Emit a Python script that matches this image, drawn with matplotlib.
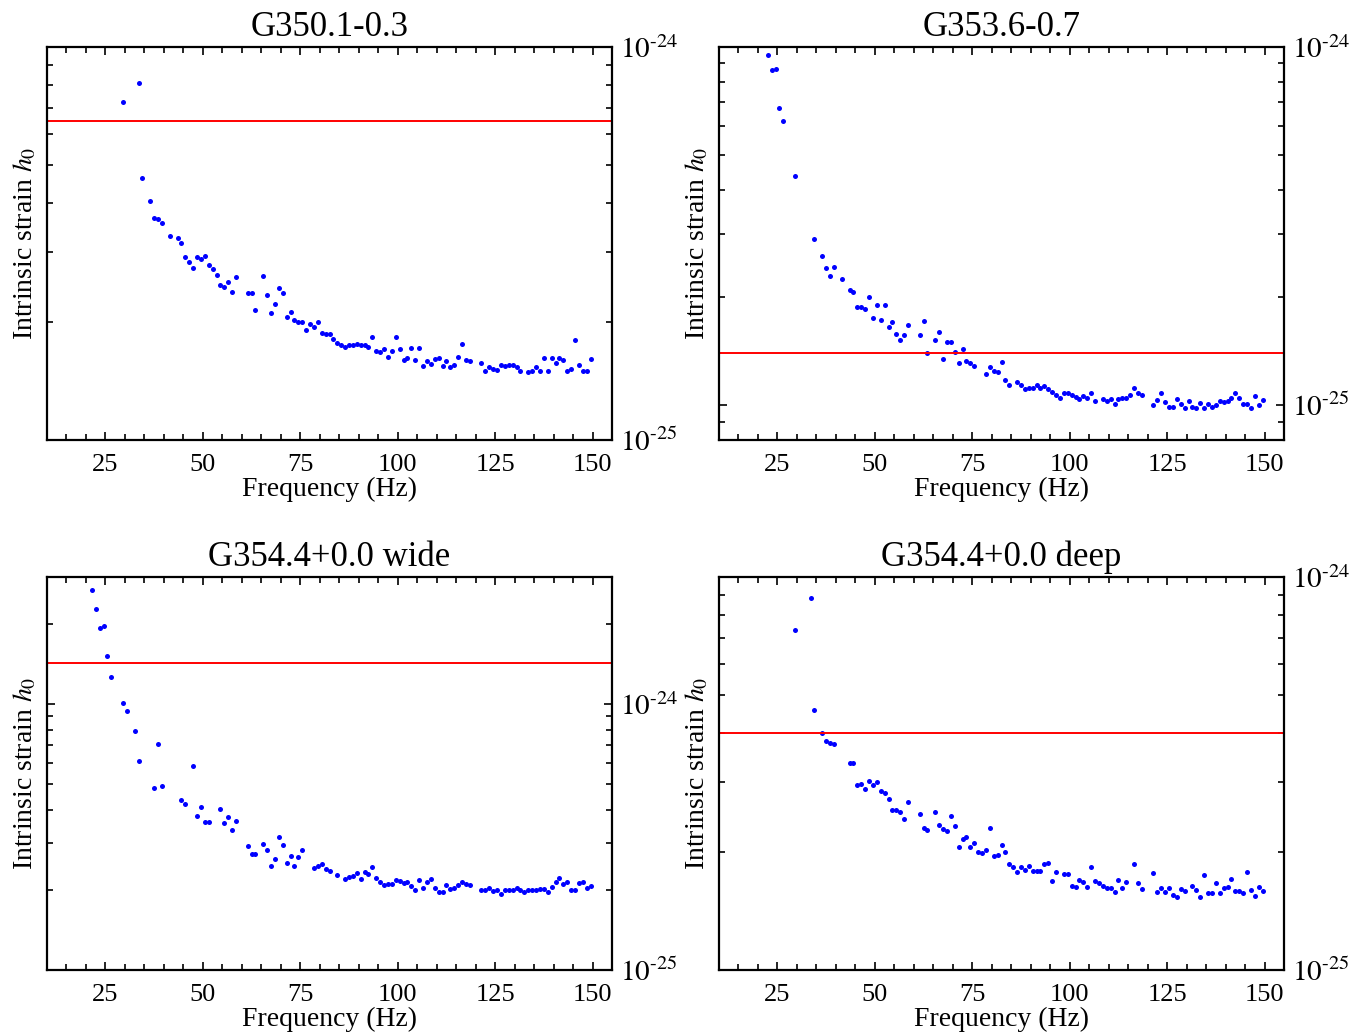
import numpy as np
import matplotlib
matplotlib.use("Agg")
import matplotlib.pyplot as plt
from matplotlib.ticker import FixedLocator, NullFormatter, FuncFormatter

plt.rcParams['font.family'] = 'serif'
plt.rcParams['font.serif'] = ['Liberation Serif', 'DejaVu Serif']
plt.rcParams['mathtext.fontset'] = 'stix'

# strain values read in units of 1e-25
UNIT = 1e-25

#G350.1-0.3
f1 = [29.5, 33.5, 34.5, 36.5, 37.5, 38.5, 39.5, 41.5, 43.5, 44.5, 45.5, 46.5, 47.5, 48.5, 49.5, 50.5,
      51.5, 52.5, 53.5, 54.5, 55.5, 56.5, 57.5, 58.5, 61.5, 62.5, 63.5, 65.5, 66.5, 67.5, 68.5, 69.5,
      70.5, 71.5, 72.5, 73.5, 74.5, 75.5, 76.5, 77.5, 78.5, 79.5, 80.5, 81.5, 82.5, 83.5, 84.5, 85.5,
      86.5, 87.5, 88.5, 89.5, 90.5, 91.5, 92.5, 93.5, 94.5, 95.5, 96.5, 97.5, 98.5, 99.5, 100.5, 101.5,
      102.5, 103.5, 104.5, 105.5, 106.5, 107.5, 108.5, 109.5, 110.5, 111.5, 112.5, 113.5, 114.5, 115.5,
      116.5, 117.5, 118.5, 121.5, 122.5, 123.5, 124.5, 125.5, 126.5, 127.5, 128.5, 129.5, 130.5, 131.5,
      133.5, 134.5, 135.5, 136.5, 137.5, 138.5, 139.5, 140.5, 141.5, 142.5, 143.5, 144.5, 145.5, 146.5,
      147.5, 148.5, 149.5]
h1 = [7.26, 8.11, 4.64, 4.06, 3.68, 3.66, 3.57, 3.30, 3.26, 3.17, 2.93, 2.83, 2.74, 2.93, 2.89, 2.94,
      2.79, 2.73, 2.63, 2.48, 2.45, 2.53, 2.38, 2.60, 2.37, 2.36, 2.14, 2.61, 2.34, 2.10, 2.22, 2.44,
      2.36, 2.05, 2.12, 2.02, 2.00, 2.00, 1.91, 1.97, 1.94, 2.00, 1.87, 1.86, 1.86, 1.81, 1.77, 1.74,
      1.72, 1.74, 1.74, 1.75, 1.74, 1.74, 1.72, 1.83, 1.68, 1.67, 1.70, 1.63, 1.68, 1.83, 1.70, 1.60,
      1.62, 1.71, 1.60, 1.71, 1.54, 1.59, 1.56, 1.61, 1.62, 1.54, 1.59, 1.53, 1.55, 1.63,
      1.76, 1.60, 1.59, 1.57, 1.50, 1.53, 1.52, 1.51, 1.55, 1.54, 1.55, 1.55, 1.53, 1.50,
      1.49, 1.50, 1.53, 1.50, 1.62, 1.50, 1.62, 1.57, 1.62, 1.60, 1.50, 1.52, 1.80, 1.55,
      1.50, 1.50, 1.61]
limit1 = 6.5

#G353.6-0.7
f2 = [22.5, 23.5, 24.5, 25.5, 26.5, 29.5, 34.5, 36.5, 37.5, 38.5, 39.5, 41.5, 43.5, 44.5, 45.5, 46.5,
      47.5, 48.5, 49.5, 50.5, 51.5, 52.5, 53.5, 54.5, 55.5, 56.5, 57.5, 58.5, 61.5, 62.5, 63.5, 65.5,
      66.5, 67.5, 68.5, 69.5, 70.5, 71.5, 72.5, 73.5, 74.5, 75.5, 78.5, 79.5, 80.5, 81.5, 82.5, 83.5,
      84.5, 86.5, 87.5, 88.5, 89.5, 90.5, 91.5, 92.5, 93.5, 94.5, 95.5, 96.5, 97.5, 98.5, 99.5, 100.5,
      101.5, 102.5, 103.5, 104.5, 105.5, 106.5, 108.5, 109.5, 110.5, 111.5, 112.5, 113.5, 114.5, 115.5,
      116.5, 117.5, 118.5, 121.5, 122.5, 123.5, 124.5, 125.5, 126.5, 127.5, 128.5, 129.5, 130.5, 131.5,
      132.5, 133.5, 134.5, 135.5, 136.5, 137.5, 138.5, 139.5, 140.5, 141.5, 142.5, 143.5, 144.5, 145.5,
      146.5, 147.5, 148.5, 149.5]
h2 = [9.50, 8.65, 8.70, 6.74, 6.22, 4.36, 2.92, 2.61, 2.41, 2.29, 2.43, 2.25, 2.10, 2.07, 1.88, 1.88,
      1.86, 2.00, 1.75, 1.91, 1.73, 1.91, 1.65, 1.71, 1.58, 1.525, 1.57, 1.68, 1.57, 1.72, 1.40, 1.52,
      1.60, 1.345, 1.50, 1.50, 1.41, 1.31, 1.44, 1.325, 1.31, 1.29, 1.22, 1.28, 1.25, 1.24, 1.32, 1.18,
      1.14, 1.16, 1.14, 1.11, 1.12, 1.12, 1.14, 1.12, 1.13, 1.11, 1.09, 1.07, 1.05, 1.08, 1.08, 1.07,
      1.055, 1.04, 1.06, 1.05, 1.08, 1.025, 1.04, 1.03, 1.04, 1.01, 1.04, 1.05, 1.05, 1.07,
      1.12, 1.08, 1.07, 1.00, 1.035, 1.08, 1.02, 0.99, 0.99, 1.04, 1.01, 0.98, 1.03, 0.99,
      0.98, 1.015, 0.985, 1.01, 0.99, 1.00, 1.03, 1.02, 1.03, 1.05, 1.08, 1.05, 1.01, 1.01,
      0.98, 1.06, 1.00, 1.035]
limit2 = 1.40

#G354.4+0.0 wide
f3 = [21.5, 22.5, 23.5, 24.5, 25.5, 26.5, 29.5, 30.5, 32.5, 33.5, 37.5, 38.5, 39.5, 44.5, 45.5, 47.5,
      48.5, 49.5, 50.5, 51.5, 54.5, 55.5, 56.5, 57.5, 58.5, 61.5, 62.5, 63.5, 65.5, 66.5, 67.5, 68.5,
      69.5, 70.5, 71.5, 72.5, 73.5, 74.5, 75.5, 78.5, 79.5, 80.5, 81.5, 82.5, 84.5, 86.5, 87.5, 88.5,
      89.5, 90.5, 91.5, 92.5, 93.5, 94.5, 95.5, 96.5, 97.5, 98.5, 99.5, 100.5, 101.5, 102.5,
      103.5, 104.5, 105.5, 106.5, 107.5, 108.5, 109.5, 110.5, 111.5, 112.5, 113.5, 114.5, 115.5, 116.5,
      117.5, 118.5, 121.5, 122.5, 123.5, 124.5, 125.5, 126.5, 127.5, 128.5, 129.5, 130.5, 131.5, 132.5,
      133.5, 134.5, 135.5, 136.5, 137.5, 138.5, 139.5, 140.5, 141.5, 142.5, 143.5, 144.5, 145.5, 146.5,
      147.5, 148.5, 149.5]
h3 = [26.8, 22.8, 19.3, 19.7, 15.1, 12.6, 10.1, 9.39, 7.90, 6.08, 4.84, 7.06, 4.91, 4.34, 4.22, 5.84,
      3.80, 4.09, 3.61, 3.61, 4.02, 3.58, 3.75, 3.36, 3.63, 2.93, 2.73, 2.73, 2.97, 2.82, 2.46, 2.61,
      3.17, 2.96, 2.53, 2.68, 2.45, 2.65, 2.82, 2.41, 2.46, 2.50, 2.40, 2.35, 2.28, 2.19, 2.24, 2.25,
      2.32, 2.19, 2.34, 2.30, 2.43, 2.22, 2.14, 2.09, 2.11, 2.11, 2.17, 2.16, 2.13, 2.15,
      2.06, 2.00, 2.17, 2.03, 2.14, 2.19, 2.04, 1.97, 1.97, 2.09, 2.01, 2.04, 2.08, 2.15,
      2.11, 2.09, 2.00, 2.00, 2.04, 1.98, 2.00, 1.93, 2.00, 2.00, 2.00, 2.03, 2.00, 1.97,
      1.99, 1.99, 1.99, 2.01, 2.01, 1.97, 2.05, 2.14, 2.22, 2.11, 2.14, 2.00, 2.00, 2.13,
      2.14, 2.04, 2.06]
limit3 = 14.3

#G354.4+0.0 deep
f4 = [29.5, 33.5, 34.5, 36.5, 37.5, 38.5, 39.5, 43.5, 44.5, 45.5, 46.5, 47.5, 48.5, 49.5, 50.5, 51.5,
      52.5, 53.5, 54.5, 55.5, 56.5, 57.5, 58.5, 61.5, 62.5, 63.5, 65.5, 66.5, 67.5, 68.5, 69.5, 70.5,
      71.5, 72.5, 73.5, 74.5, 75.5, 76.5, 77.5, 78.5, 79.5, 80.5, 81.5, 82.5, 83.5, 84.5, 85.5, 86.5,
      87.5, 88.5, 89.5, 90.5, 91.5, 92.5, 93.5, 94.5, 95.5, 96.5, 98.5, 99.5, 100.5, 101.5,
      102.5, 103.5, 104.5, 105.5, 106.5, 107.5, 108.5, 109.5, 110.5, 111.5, 112.5, 113.5, 114.5, 116.5,
      117.5, 118.5, 121.5, 122.5, 123.5, 124.5, 125.5, 126.5, 127.5, 128.5, 129.5, 131.5, 132.5, 133.5,
      134.5, 135.5, 136.5, 137.5, 138.5, 139.5, 140.5, 141.5, 142.5, 143.5, 144.5, 145.5, 146.5, 147.5,
      148.5, 149.5]
h4 = [7.34, 8.82, 4.59, 4.00, 3.82, 3.77, 3.76, 3.36, 3.36, 2.95, 2.98, 2.88, 3.02, 2.95, 3.00, 2.86,
      2.82, 2.73, 2.55, 2.56, 2.52, 2.42, 2.67, 2.50, 2.30, 2.27, 2.53, 2.34, 2.28, 2.26, 2.47, 2.32,
      2.06, 2.16, 2.18, 2.06, 2.11, 2.00, 1.98, 2.02, 2.30, 1.95, 1.96, 2.08, 2.00, 1.86, 1.83, 1.78,
      1.83, 1.80, 1.84, 1.79, 1.79, 1.79, 1.86, 1.87, 1.68, 1.78, 1.76, 1.75, 1.64, 1.63,
      1.69, 1.67, 1.63, 1.83, 1.68, 1.66, 1.64, 1.62, 1.62, 1.58, 1.69, 1.62, 1.67, 1.86,
      1.66, 1.61, 1.77, 1.58, 1.62, 1.58, 1.62, 1.555, 1.53, 1.61, 1.59, 1.64, 1.60, 1.53,
      1.74, 1.57, 1.57, 1.66, 1.57, 1.62, 1.63, 1.70, 1.59, 1.59, 1.57, 1.78, 1.60, 1.54,
      1.63, 1.59]
limit4 = 4.0

titles = ["G350.1-0.3", "G353.6-0.7", "G354.4+0.0 wide", "G354.4+0.0 deep"]
freqs = [f1, f2, f3, f4]
strains = [h1, h2, h3, h4]
limits = [limit1, limit2, limit3, limit4]
ylims = [(1e-25, 1e-24), (8e-26, 1e-24), (1e-25, 3e-24), (1e-25, 1e-24)]

xmajor = [25, 50, 75, 100, 125, 150]
xminor = [15, 20, 30, 35, 40, 45, 55, 60, 65, 70, 80, 85, 90, 95, 105, 110, 115, 120, 130, 135, 140, 145]


def power_label(v, pos):
	# 10^-24 style label with a short hyphen, like the original
	e = int(round(np.log10(v)))
	return r'$\mathrm{10}^{\text{-}%d}$' % abs(e)


def in_range(vals, lo, hi):
	return [v for v in vals if lo*0.999 <= v <= hi*1.001]


fig = plt.figure(figsize=(13.58, 10.36), dpi=100)
W, H = 1358.0, 1036.0
boxes = [(47, 47), (719, 47), (47, 577), (719, 577)]

for i in range(4):
	x0, y0 = boxes[i]
	lo, hi = ylims[i]
	ax = fig.add_axes([x0/W, 1 - (y0 + 393)/H, 565/W, 393/H])
	ax.plot(freqs[i], np.array(strains[i])*UNIT, 'o', color='#0000ff', ms=3.6, mec='none')
	ax.axhline(limits[i]*UNIT, color='#ff0000', lw=1.4)
	ax.set_yscale('log')
	ax.set_xlim(10, 155)
	ax.set_ylim(lo, hi)
	ax.xaxis.set_major_locator(FixedLocator(xmajor))
	ax.xaxis.set_minor_locator(FixedLocator(xminor))
	decades = [1e-26, 1e-25, 1e-24]
	ymajor = in_range(decades, lo, hi)
	yminor = in_range([d*k for d in decades for k in range(2, 10)], lo, hi)
	ax.yaxis.set_major_locator(FixedLocator(ymajor))
	ax.yaxis.set_minor_locator(FixedLocator(yminor))
	ax.yaxis.set_major_formatter(FuncFormatter(power_label))
	ax.yaxis.set_minor_formatter(NullFormatter())
	ax.yaxis.tick_right()
	ax.yaxis.set_label_position('left')
	ax.tick_params(which='both', direction='in', top=True, bottom=True, left=True, right=True,
				   labelleft=False, labelright=True, width=1.2)
	ax.tick_params(which='major', length=6)
	ax.tick_params(which='minor', length=4)
	ax.tick_params(axis='x', which='major', labelsize=19, pad=10)
	ax.tick_params(axis='y', which='major', labelsize=21, pad=6)
	for s in ax.spines.values():
		s.set_linewidth(1.6)
	ax.set_xlabel("Frequency (Hz)", fontsize=20, labelpad=1)
	ax.set_ylabel("Intrinsic strain $h_0$", fontsize=20, labelpad=6)
	ax.set_title(titles[i], fontsize=25, pad=8)

fig.savefig("out.png", dpi=100)
